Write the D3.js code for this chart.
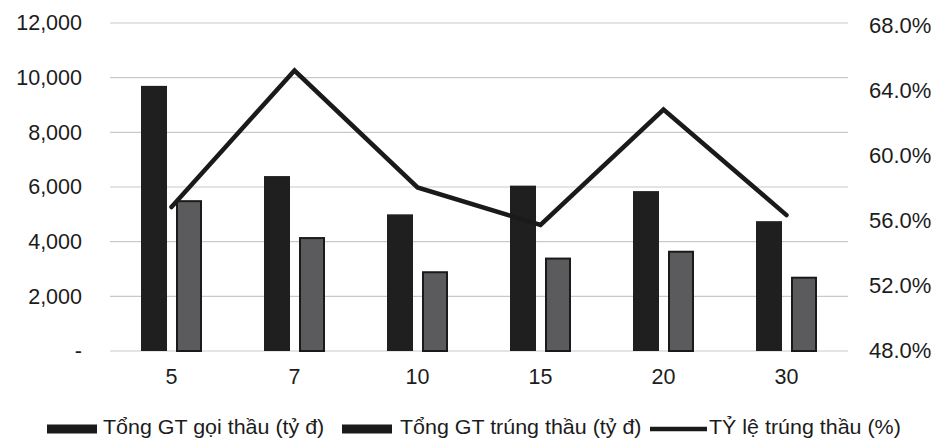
<!DOCTYPE html>
<html>
<head>
<meta charset="utf-8">
<script src="https://cdn.jsdelivr.net/npm/d3@7"></script>
<style>
  html, body { margin: 0; padding: 0; background: #fff; }
  svg { display: block; font-family: "Liberation Sans", Arial, sans-serif; }
</style>
</head>
<body>
<svg id="chart" width="938" height="439"></svg>
<script>
// Package size groups
const categories = ["5", "7", "10", "15", "20", "30"];
// Total tendered value (billion VND)
const tongGoiThau = [9700, 6400, 5000, 6050, 5850, 4750];
// Total awarded value (billion VND)
const tongTrungThau = [5500, 4150, 2900, 3400, 3650, 2700];
// Award ratio (%)
const tyLeTrungThau = [56.8, 65.2, 58.0, 55.7, 62.8, 56.3];

const leftTicks = [0, 2000, 4000, 6000, 8000, 10000, 12000];
const rightTicks = [48, 52, 56, 60, 64, 68];

const seriesNames = ["Tổng GT gọi thầu (tỷ đ)", "Tổng GT trúng thầu (tỷ đ)", "TỶ lệ trúng thầu (%)"];

const svg = d3.select("#chart");
const plot = { left: 110, right: 848, top: 23, bottom: 351 };
const textColor = "#1c1c1c";

const x0 = d3.scaleBand().domain(categories).range([plot.left, plot.right]).padding(0);
const keys = ["goi", "trung"];
const x1 = d3.scaleBand().domain(keys).range([0, x0.bandwidth()])
  .paddingInner(0.257).paddingOuter(0.886);
const y = d3.scaleLinear().domain([0, 12000]).range([plot.bottom, plot.top]);
const y2 = d3.scaleLinear().domain([48, 68]).range([350, 25]);

// Gridlines
svg.append("g")
  .selectAll("line").data(leftTicks).join("line")
  .attr("x1", plot.left).attr("x2", plot.right)
  .attr("y1", d => y(d)).attr("y2", d => y(d))
  .attr("stroke", "#c9c9cc").attr("stroke-width", 1.2);

// Left axis
const leftAxis = svg.append("g")
  .attr("transform", `translate(${plot.left - 28},0)`)
  .call(d3.axisLeft(y).tickValues(leftTicks).tickSize(0).tickPadding(0)
    .tickFormat(d => d === 0 ? "-" : d3.format(",")(d)));
leftAxis.select(".domain").remove();
leftAxis.selectAll("text").attr("font-size", 21.5).attr("fill", textColor)
  .attr("font-family", "Liberation Sans, Arial, sans-serif");

// Right axis
const rightAxis = svg.append("g")
  .attr("transform", `translate(${plot.right + 21},0)`)
  .call(d3.axisRight(y2).tickValues(rightTicks).tickSize(0).tickPadding(0)
    .tickFormat(d => d.toFixed(1) + "%"));
rightAxis.select(".domain").remove();
rightAxis.selectAll("text").attr("font-size", 22).attr("fill", textColor)
  .attr("font-family", "Liberation Sans, Arial, sans-serif");

// Bottom category axis
const bottomAxis = svg.append("g")
  .attr("transform", `translate(0,${plot.bottom + 18})`)
  .call(d3.axisBottom(x0).tickSize(0).tickPadding(0));
bottomAxis.select(".domain").remove();
bottomAxis.selectAll("text").attr("font-size", 21.5).attr("fill", textColor)
  .attr("dy", "0.71em")
  .attr("font-family", "Liberation Sans, Arial, sans-serif");

// Bars
const rows = categories.map((c, i) => ({ c, goi: tongGoiThau[i], trung: tongTrungThau[i] }));
const groups = svg.append("g").selectAll("g").data(rows).join("g")
  .attr("transform", d => `translate(${x0(d.c)},0)`);

groups.append("rect")
  .attr("x", x1("goi")).attr("width", x1.bandwidth())
  .attr("y", d => y(d.goi)).attr("height", d => y(0) - y(d.goi))
  .attr("fill", "#1f1f1f");

groups.append("rect")
  .attr("x", x1("trung") + 1).attr("width", x1.bandwidth() - 2)
  .attr("y", d => y(d.trung) + 0.5).attr("height", d => y(0) - y(d.trung) - 0.5)
  .attr("fill", "#5b5b5e").attr("stroke", "#1a1a1a").attr("stroke-width", 2);

// Ratio line
const line = d3.line()
  .x((d, i) => x0(categories[i]) + x0.bandwidth() / 2)
  .y(d => y2(d));
svg.append("path")
  .datum(tyLeTrungThau)
  .attr("d", line)
  .attr("fill", "none")
  .attr("stroke", "#1a1a1a")
  .attr("stroke-width", 4.5)
  .attr("stroke-linejoin", "miter")
  .attr("stroke-linecap", "round");

// Legend (text is set slightly wide, as in the printed original)
const legend = svg.append("g");
const swatchY = 429;
const textY = 427;
const items = [
  { name: seriesNames[0], type: "bar", x: 47, tx: 103 },
  { name: seriesNames[1], type: "bar", x: 342, tx: 400 },
  { name: seriesNames[2], type: "line", x: 650, tx: 709 }
];
items.forEach(it => {
  if (it.type === "bar") {
    legend.append("rect").attr("x", it.x).attr("y", swatchY - 4.5)
      .attr("width", 50).attr("height", 9).attr("fill", "#1a1a1a");
  } else {
    legend.append("line").attr("x1", it.x).attr("x2", it.x + 57)
      .attr("y1", swatchY).attr("y2", swatchY)
      .attr("stroke", "#1a1a1a").attr("stroke-width", 4.5);
  }
  legend.append("text")
    .attr("transform", `translate(${it.tx},${textY}) scale(1.1,1)`)
    .attr("dy", "0.35em")
    .attr("font-size", 19.5).attr("fill", textColor)
    .text(it.name);
});
</script>
</body>
</html>
